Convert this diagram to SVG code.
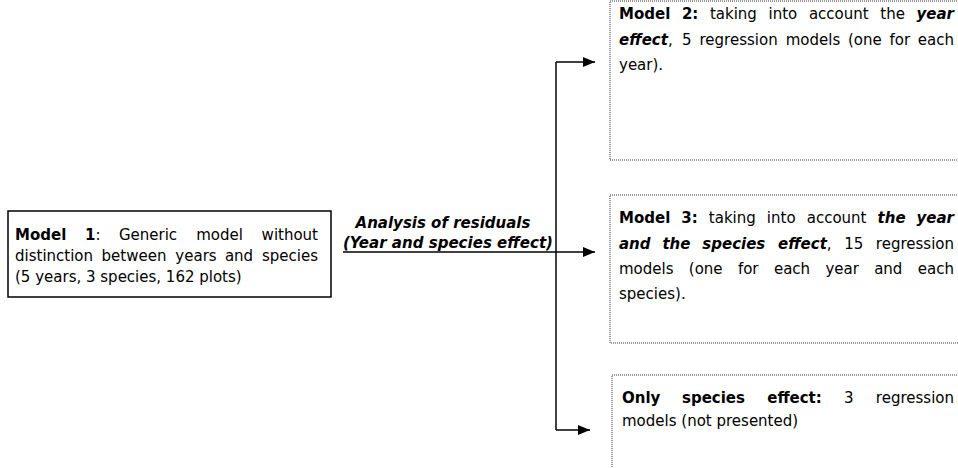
<svg xmlns="http://www.w3.org/2000/svg" width="958" height="468" viewBox="0 0 958 468">
<style>
  text { font-family: "DejaVu Sans", "Liberation Sans", sans-serif; font-size: 15px; fill: #000; }
  .b { font-weight: bold; }
  .bi { font-weight: bold; font-style: italic; }
  .m { text-anchor: middle; }
  .e { text-anchor: end; }
  .solid { fill: #fff; stroke: #000; stroke-width: 1.5; }
  .dot { fill: #fff; stroke: #333; stroke-width: 1; stroke-dasharray: 1 1; }
  .conn { fill: none; stroke: #000; stroke-width: 1.5; }
</style>
<defs>
  <marker id="arr" viewBox="0 0 12 10" refX="12" refY="5" markerWidth="12" markerHeight="10" markerUnits="userSpaceOnUse" orient="auto">
    <path d="M0,0 L12,5 L0,10 z" fill="#000"/>
  </marker>
</defs>
<rect width="958" height="468" fill="#fff"/>

<g id="model1">
  <rect class="solid" x="8" y="211" width="323" height="86"/>
  <text x="15" y="240" class="b">Model</text>
  <text x="85" y="240"><tspan class="b">1</tspan>:</text>
  <text x="148" y="240" class="m">Generic</text>
  <text x="219.5" y="240" class="m">model</text>
  <text x="318" y="240" class="e">without</text>
  <text x="15" y="261">distinction</text>
  <text x="134" y="261" class="m">between</text>
  <text x="196" y="261" class="m">years</text>
  <text x="239" y="261" class="m">and</text>
  <text x="318" y="261" class="e">species</text>
  <text x="15" y="282">(5 years, 3 species, 162 plots)</text>
</g>

<g id="label">
  <text x="443" y="228" class="bi m">Analysis of residuals</text>
  <text x="448" y="248" class="bi m" textLength="210" lengthAdjust="spacingAndGlyphs">(Year and species effect)</text>
</g>

<g id="connectors">
  <path class="conn" d="M343,252 H595" marker-end="url(#arr)"/>
  <path class="conn" d="M556,62 V430"/>
  <path class="conn" d="M556,62 H595" marker-end="url(#arr)"/>
  <path class="conn" d="M556,430 H590" marker-end="url(#arr)"/>
</g>

<g id="model2">
  <rect class="dot" x="610" y="1" width="360" height="159"/>
  <text x="619" y="19" class="b">Model</text>
  <text x="681.9" y="19" class="b">2:</text>
  <text x="733.4" y="19" class="m">taking</text>
  <text x="782.9" y="19" class="m">into</text>
  <text x="838.8" y="19" class="m">account</text>
  <text x="892.6" y="19" class="m">the</text>
  <text x="954" y="19" class="bi e">year</text>
  <text x="619" y="45"><tspan class="bi">effect</tspan>,</text>
  <text x="686.7" y="45" class="m">5</text>
  <text x="738.6" y="45" class="m">regression</text>
  <text x="813" y="45" class="m">models</text>
  <text x="864.8" y="45" class="m">(one</text>
  <text x="899.8" y="45" class="m">for</text>
  <text x="954" y="45" class="e">each</text>
  <text x="619" y="70">year).</text>
</g>

<g id="model3">
  <rect class="dot" x="610" y="195" width="360" height="148"/>
  <text x="619" y="223" class="b">Model</text>
  <text x="681.3" y="223" class="b">3:</text>
  <text x="732.3" y="223" class="m">taking</text>
  <text x="781.2" y="223" class="m">into</text>
  <text x="836.6" y="223" class="m">account</text>
  <text x="891.6" y="223" class="bi m">the</text>
  <text x="954" y="223" class="bi e">year</text>
  <text x="619" y="249" class="bi">and</text>
  <text x="676.4" y="249" class="bi m">the</text>
  <text x="733.8" y="249" class="bi m">species</text>
  <text x="804.8" y="249" class="m"><tspan class="bi">effect</tspan>,</text>
  <text x="853.8" y="249" class="m">15</text>
  <text x="954" y="249" class="e">regression</text>
  <text x="619" y="274">models</text>
  <text x="705.7" y="274" class="m">(one</text>
  <text x="748.2" y="274" class="m">for</text>
  <text x="792" y="274" class="m">each</text>
  <text x="842.2" y="274" class="m">year</text>
  <text x="888.3" y="274" class="m">and</text>
  <text x="954" y="274" class="e">each</text>
  <text x="619" y="299">species).</text>
</g>

<g id="species-only">
  <rect class="dot" x="612" y="375" width="360" height="110"/>
  <text x="622" y="403" class="b">Only</text>
  <text x="713.5" y="403" class="b m">species</text>
  <text x="794.5" y="403" class="b m">effect:</text>
  <text x="848.7" y="403" class="m">3</text>
  <text x="954" y="403" class="e">regression</text>
  <text x="622" y="426">models (not presented)</text>
</g>
</svg>
